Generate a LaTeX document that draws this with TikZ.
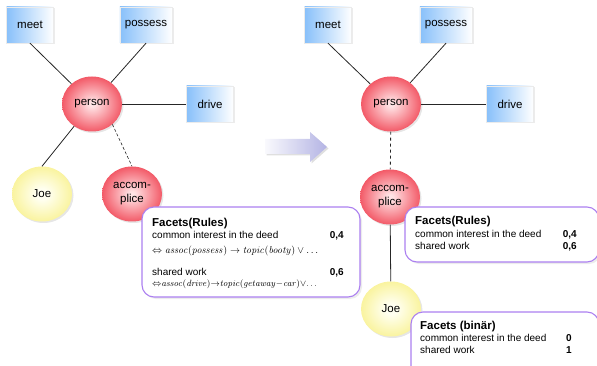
\documentclass[tikz,border=0pt]{standalone}
\usepackage{amsmath,amssymb}
\usepackage[no-math]{fontspec}
\setmainfont{Liberation Sans}
\usepackage{xcolor}
\usepackage{tikz}
\definecolor{predblue}{HTML}{88C0FA}
\definecolor{rolered}{HTML}{F03C4C}
\definecolor{rolecore}{HTML}{FFE4E6}
\definecolor{instyellow}{HTML}{F6EC6A}
\definecolor{instcore}{HTML}{FFFFF0}
\definecolor{facetpurple}{HTML}{AC80F0}
\definecolor{shiftlav}{HTML}{B4B4E4}
\usetikzlibrary{shapes.geometric,shadows}

\pgfdeclareradialshading{redglow}{\pgfpointorigin}{color(0bp)=(rolecore); color(2bp)=(rolecore); color(30bp)=(rolered); color(50bp)=(rolered)}
\pgfdeclareradialshading{yellowglow}{\pgfpointorigin}{color(0bp)=(instcore); color(5bp)=(instcore); color(38bp)=(instyellow); color(50bp)=(instyellow)}

\tikzset{
  pred/.style={rectangle,minimum width=47pt,minimum height=36pt,inner xsep=5pt,
    left color=predblue,right color=white,draw=black!8,
    drop shadow={opacity=0.15,shadow xshift=1.5pt,shadow yshift=-1.5pt},
    font=\fontsize{11.5}{14}\selectfont},
  role/.style={ellipse,minimum width=60pt,minimum height=55pt,inner sep=0pt,
    shade,shading=redglow,align=center,
    drop shadow={opacity=0.2,shadow xshift=1.5pt,shadow yshift=-1.5pt},
    font=\fontsize{11.5}{14}\selectfont},
  inst/.style={role,shading=yellowglow},
  link/.style={line width=0.8pt,black!85},
  facetbox/.style={draw=facetpurple,line width=1.1pt,rounded corners=12pt,fill=white,
    drop shadow={opacity=0.15,shadow xshift=2pt,shadow yshift=-2pt}},
  facettitle/.style={anchor=base west,inner sep=0pt,font=\fontsize{11.5}{14}\selectfont\bfseries},
  facetrow/.style={anchor=base west,inner sep=0pt,font=\fontsize{10}{12}\selectfont},
  facetval/.style={anchor=base east,inner sep=0pt,font=\fontsize{10}{12}\selectfont\bfseries},
  facetrule/.style={anchor=base west,inner sep=0pt,font=\fontsize{10}{12}\selectfont},
}

\begin{document}
\begin{tikzpicture}[x=1pt,y=-1pt]
\useasboundingbox (0,0) rectangle (597,366);
\clip (0,0) rectangle (597,366);

% before
\node[pred] (meet1) at (30,25) {meet};
\node[pred] (possess1) at (146,25) {possess};
\node[pred] (drive1) at (210,104) {drive};
\node[role] (person1) at (92,104) {person};
\node[inst] (joe1) at (42,194) {Joe};
\node[role] (acc1) at (132,194) {accom-\\plice};
\draw[link] (meet1.south) -- (person1);
\draw[link] (possess1.south) -- (person1);
\draw[link] (person1) -- (drive1);
\draw[link] (person1) -- (joe1.north);
\draw[link,densely dashed,line width=0.6pt] (person1.-45) -- (acc1.north);

% after
\node[pred] (meet2) at (328,25) {meet};
\node[pred] (possess2) at (446,25) {possess};
\node[pred] (drive2) at (510,104) {drive};
\node[role] (person2) at (391,104) {person};
\node[role] (acc2) at (390,197) {accom-\\plice};
\node[inst] (joe2) at (391,309) {Joe};
\draw[link] (meet2.south) -- (person2);
\draw[link] (possess2.south) -- (person2);
\draw[link] (person2) -- (drive2);
\draw[link,dashed] (person2) -- (acc2);
\draw[link] (acc2) -- (joe2);

\path[left color=white!92!shiftlav,right color=shiftlav,
  drop shadow={opacity=0.25,shadow xshift=1.5pt,shadow yshift=-1.5pt}]
  (265,139) -- (310,139) -- (310,132) -- (327,147) -- (310,162) -- (310,154) -- (265,154) -- cycle;

\draw[facetbox] (142,207) rectangle (360,297);
\node[facettitle] (rules1) at (152,227) {Facets(Rules)};
\node[facetrow] (common1) at (152,238) {common interest in the deed};
\node[facetval] (cval1) at (344,238) {0,4};
\node[facetrule] (rulea) at (152,254) {$\Leftrightarrow\mathit{assoc}(\mathit{possess})\rightarrow\mathit{topic}(\mathit{booty})\vee\ldots$};
\node[facetrow] (shared1) at (152,275) {shared work};
\node[facetval] (sval1) at (344,275) {0,6};
\node[facetrule,font=\fontsize{9.5}{12}\selectfont] (ruleb) at (152,286) {\thickmuskip=0mu\medmuskip=0mu$\Leftrightarrow\mathit{assoc}(\mathit{drive})\rightarrow\mathit{topic}(\mathit{getaway}-\mathit{car})\vee\ldots$};

\draw[facetbox] (405,207) rectangle (599,262);
\node[facettitle] (rules2) at (415,225) {Facets(Rules)};
\node[facetrow] (common2) at (415,237) {common interest in the deed};
\node[facetval] (cval2) at (577,237) {0,4};
\node[facetrow] (shared2) at (415,249.5) {shared work};
\node[facetval] (sval2) at (577,249.5) {0,6};

\draw[facetbox] (411,312) rectangle (599,380);
\node[facettitle] (binary) at (420,329.5) {Facets (binär)};
\node[facetrow] (common3) at (420,341) {common interest in the deed};
\node[facetval] (cval3) at (572,341) {0};
\node[facetrow] (shared3) at (420,353) {shared work};
\node[facetval] (sval3) at (572,353) {1};
\end{tikzpicture}
\end{document}
